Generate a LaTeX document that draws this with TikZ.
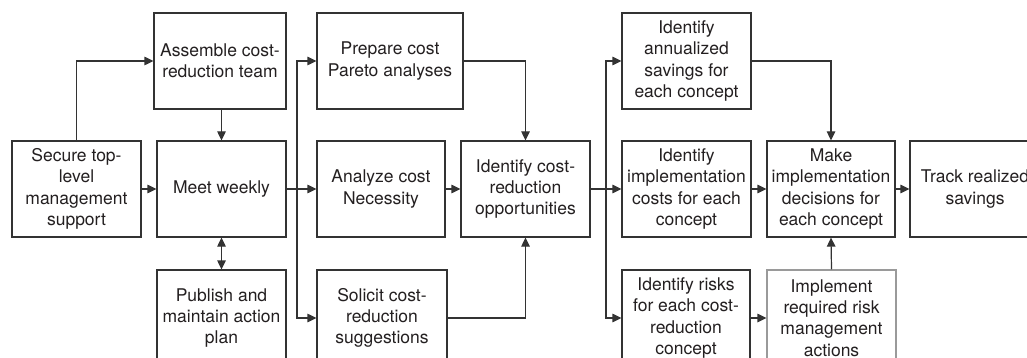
\documentclass[tikz,border=0pt]{standalone}
\usepackage{fontspec}
\setmainfont{TeX Gyre Heros}
\usetikzlibrary{arrows.meta}
\definecolor{ink}{HTML}{231F20}
\definecolor{frame}{HTML}{333333}
\definecolor{grayframe}{HTML}{9A9A9A}
\tikzset{
  box/.style={draw=frame, line width=1.2pt, rectangle, inner sep=0pt, align=center,
    text=ink, font=\fontsize{17.5}{21.3}\selectfont, minimum height=96pt},
  graybox/.style={box, draw=grayframe},
  conn/.style={draw=frame, line width=1.2pt},
  arr/.style={conn, -{Triangle[length=9pt,width=8.5pt]}},
  darr/.style={conn, {Triangle[length=9pt,width=8.5pt]}-{Triangle[length=9pt,width=8.5pt]}}
}
\begin{document}
\begin{tikzpicture}[x=1pt,y=-1pt]
\useasboundingbox (0,0) rectangle (1027,358);
\clip (0,0) rectangle (1027,358);
% column 1-2
\node[box, minimum width=129pt] (secure) at (76.5,189) {Secure top-\\level\\management\\support};
\node[box, minimum width=132pt] (assemble) at (220,61) {Assemble cost-\\reduction team};
\node[box, minimum width=129pt] (meet) at (221.5,189) {Meet weekly};
\node[box, minimum width=129pt] (publish) at (221.5,318) {Publish and\\maintain action\\plan};
% column 3
\node[box, minimum width=146pt] (prepare) at (390,61) {Prepare cost\\Pareto analyses};
\node[box, minimum width=128pt] (analyze) at (381,189) {Analyze cost\\Necessity};
\node[box, minimum width=130pt] (solicit) at (382,318) {Solicit cost-\\reduction\\suggestions};
% column 4
\node[box, minimum width=129pt] (idcost) at (525.5,189) {Identify cost-\\reduction\\opportunities};
% column 5
\node[box, minimum width=129pt] (annual) at (686.5,61) {Identify\\annualized\\savings for\\each concept};
\node[box, minimum width=129pt] (implcost) at (686.5,189) {Identify\\implementation\\costs for each\\concept};
\node[box, minimum width=128pt] (risks) at (686,318) {Identify risks\\for each cost-\\reduction\\concept};
% column 6
\node[box, minimum width=128pt] (make) at (831,189) {Make\\implementation\\decisions for\\each concept};
\node[graybox, minimum width=129pt] (implement) at (831.5,318) {Implement\\required risk\\management\\actions};
% column 7
\node[box, minimum width=130pt] (track) at (975,189) {Track realized\\savings};
% junction points
\coordinate (t1) at (297,189);
\coordinate (t2) at (606,189);
% connectors
\draw[arr] (secure.north) |- (assemble.west);
\draw[arr] (secure.east) -- (meet.west);
\draw[arr] (meet.north |- assemble.south) -- (meet.north);
\draw[darr] (meet.south) -- (publish.north);
\draw[arr] (meet.east) -- (analyze.west);
\draw[arr] (t1) |- (prepare.west);
\draw[arr] (t1) |- (solicit.west);
\draw[arr] (prepare.east) -| (idcost.north);
\draw[arr] (analyze.east) -- (idcost.west);
\draw[arr] (solicit.east) -| (idcost.south);
\draw[arr] (idcost.east) -- (implcost.west);
\draw[arr] (t2) |- (annual.west);
\draw[arr] (t2) |- (risks.west);
\draw[arr] (annual.east) -| (make.north);
\draw[arr] (implcost.east) -- (make.west);
\draw[arr] (make.east) -- (track.west);
\draw[arr] (risks.east) -- (implement.west);
\draw[arr] (implement.north) -- (make.south);
\end{tikzpicture}
\end{document}
